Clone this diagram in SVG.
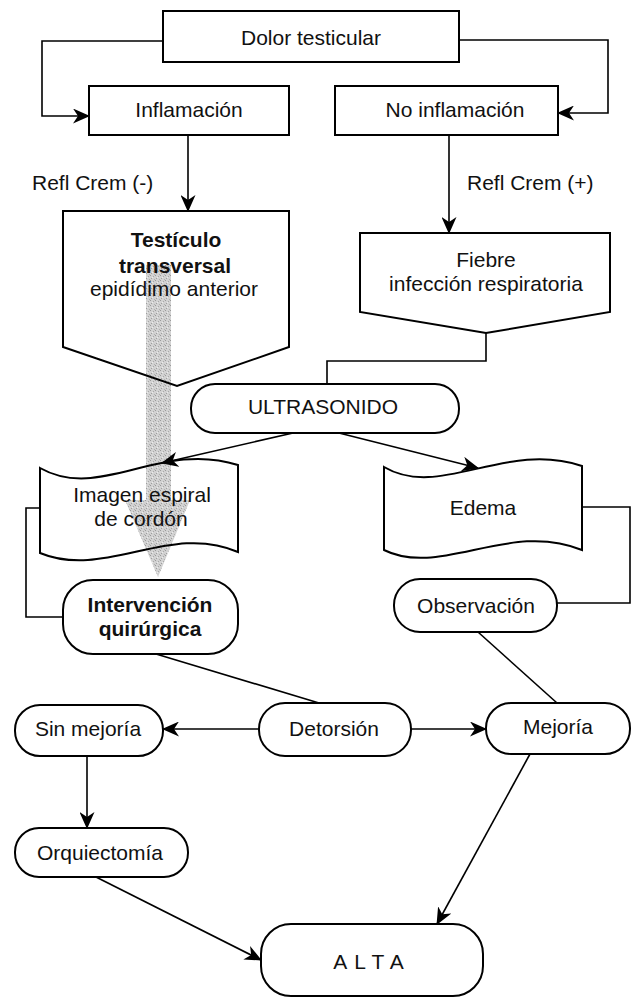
<svg xmlns="http://www.w3.org/2000/svg" width="637" height="998" viewBox="0 0 637 998">
<style>
.box{fill:#fff;stroke:#000;stroke-width:2}
.open{fill:none;stroke:#000;stroke-width:2}
.c{fill:none;stroke:#000;stroke-width:1.6}
.ca{fill:none;stroke:#000;stroke-width:1.6;marker-end:url(#ah)}
text{font-family:"Liberation Sans",Arial,Helvetica,sans-serif;font-size:21px;fill:#111;text-anchor:middle}
.b{font-weight:bold}
.l{text-anchor:start}
</style>
<defs>
<marker id="ah" markerUnits="userSpaceOnUse" markerWidth="17" markerHeight="15" refX="16" refY="7.5" orient="auto">
<path d="M0,0 L17,7.5 L0,15 L5,7.5 Z" fill="#000"/>
</marker>
<pattern id="stip" width="5" height="5" patternUnits="userSpaceOnUse">
<rect width="5" height="5" fill="#d2d2d2"/>
<rect x="0" y="0" width="1" height="1" fill="#9a9a9a"/>
<rect x="3" y="1" width="1" height="1" fill="#a8a8a8"/>
<rect x="1" y="3" width="1" height="1" fill="#9e9e9e"/>
<rect x="4" y="4" width="1" height="1" fill="#b0b0b0"/>
<rect x="2" y="2" width="1" height="1" fill="#ececec"/>
</pattern>
</defs>
<rect width="637" height="998" fill="#fff"/>
<polygon id="shade" points="146,265 171,265 171,500 190,500 158,577 125,500 146,500" fill="url(#stip)"/>
<g id="connectors">
<polyline class="ca" points="163,41 42,41 42,116 89,116"/>
<polyline class="ca" points="459,40 608,40 608,113 558,113"/>
<line class="ca" x1="188" y1="135" x2="188" y2="211"/>
<line class="ca" x1="449" y1="135" x2="449" y2="233"/>
<polyline class="c" points="486,333 486,361 327,361 327,384"/>
<line class="ca" x1="293" y1="433" x2="162" y2="463"/>
<line class="ca" x1="339" y1="433" x2="478" y2="468"/>
<polyline class="c" points="40,508 26,508 26,617 63,617"/>
<polyline class="c" points="582,507 630,507 630,603 557,603"/>
<line class="c" x1="156" y1="654" x2="319" y2="703"/>
<line class="c" x1="478" y1="632" x2="557" y2="703"/>
<line class="ca" x1="259" y1="729" x2="163" y2="729"/>
<line class="ca" x1="411" y1="729" x2="486" y2="729"/>
<line class="ca" x1="87" y1="756" x2="87" y2="828"/>
<line class="ca" x1="96" y1="877" x2="261" y2="960"/>
<line class="ca" x1="530" y1="754" x2="437" y2="924"/>
</g>
<text class="l" x="32" y="190">Refl Crem (-)</text>
<text class="l" x="467" y="190">Refl Crem (+)</text>
<g id="dolor"><rect class="box" x="163" y="11" width="296" height="51"/><text x="311" y="45">Dolor testicular</text></g>
<g id="inflamacion"><rect class="box" x="89" y="86" width="200" height="49"/><text x="189" y="117">Inflamación</text></g>
<g id="noinflamacion"><rect class="box" x="335" y="86" width="223" height="49"/><text x="455" y="117">No inflamación</text></g>
<g id="testiculo"><polygon class="open" points="63,211 289,211 289,347 177,386 63,347"/>
<text class="b" x="176" y="247">Testículo</text><text class="b" x="175" y="273">transversal</text><text x="174" y="296">epidídimo anterior</text></g>
<g id="fiebre"><polygon class="box" points="360,233 610,233 610,312 486,333 360,312"/>
<text x="486" y="267">Fiebre</text><text x="486" y="291">infección respiratoria</text></g>
<g id="ultrasonido"><rect class="box" x="191" y="384" width="268" height="49" rx="24"/><text x="323" y="414">ULTRASONIDO</text></g>
<g id="imagen"><path class="open" d="M40,468 C100,502 160,440 238,465 L238,552 C170,522 105,580 40,553 Z"/>
<text x="142" y="502">Imagen espiral</text><text x="141" y="526">de cordón</text></g>
<g id="edema"><path class="box" d="M384,467 C440,500 505,440 582,466 L582,550 C510,520 440,578 384,550 Z"/>
<text x="483" y="515">Edema</text></g>
<g id="intervencion"><rect class="box" x="63" y="580" width="175" height="74" rx="30"/>
<text class="b" x="150" y="612">Intervención</text><text class="b" x="150" y="636">quirúrgica</text></g>
<g id="observacion"><rect class="box" x="394" y="579" width="163" height="53" rx="26"/><text x="476" y="613">Observación</text></g>
<g id="sinmejoria"><rect class="box" x="15" y="705" width="148" height="51" rx="25"/><text x="88" y="736">Sin mejoría</text></g>
<g id="detorsion"><rect class="box" x="259" y="703" width="152" height="53" rx="26"/><text x="334" y="736">Detorsión</text></g>
<g id="mejoria"><rect class="box" x="486" y="703" width="144" height="51" rx="25"/><text x="558" y="734">Mejoría</text></g>
<g id="orquiectomia"><rect class="box" x="15" y="828" width="173" height="49" rx="24"/><text x="100" y="860">Orquiectomía</text></g>
<g id="alta"><rect class="box" x="261" y="924" width="222" height="72" rx="30"/><text x="372" y="969" style="letter-spacing:7px">ALTA</text></g>
</svg>
